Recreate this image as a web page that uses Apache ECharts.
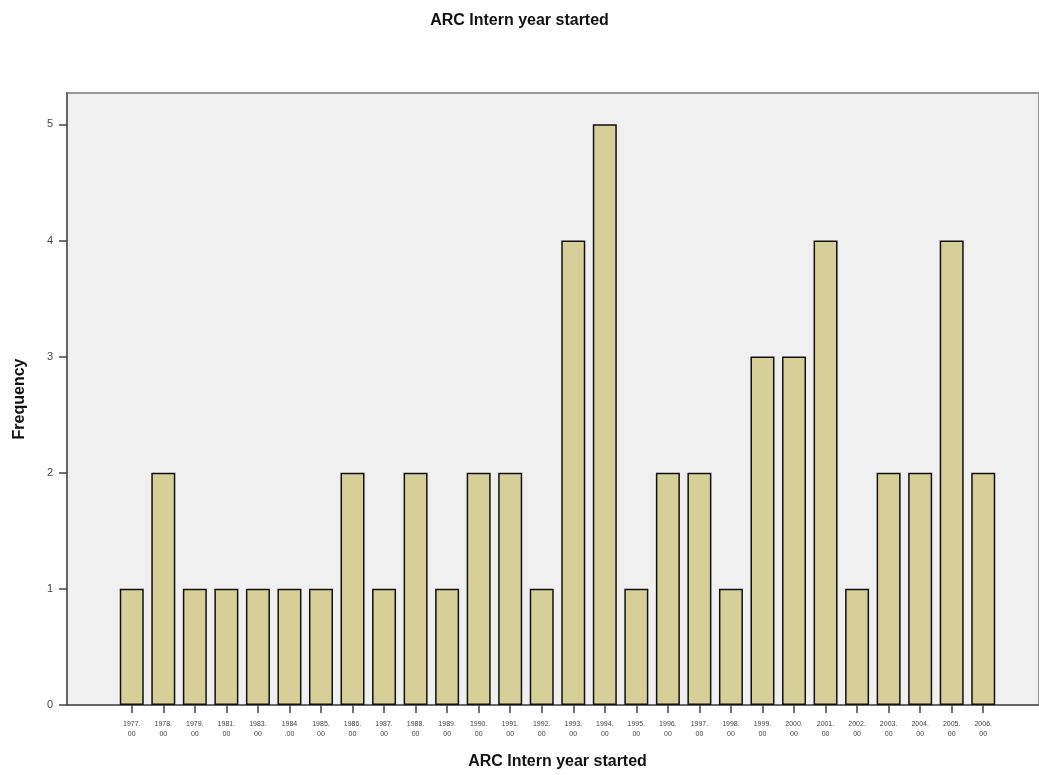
<!DOCTYPE html>
<html>
<head>
<meta charset="utf-8">
<script src="https://cdn.jsdelivr.net/npm/echarts@6/dist/echarts.min.js"></script>
<style>html,body{margin:0;padding:0;background:#fff}#c{width:1039px;height:775px}</style>
</head>
<body>
<div id="c"></div>
<script>
var categories = ['1977.\n00','1978.\n00','1979.\n00','1981.\n00','1983.\n00','1984\n.00','1985.\n00','1986.\n00','1987.\n00','1988.\n00','1989.\n00','1990.\n00','1991.\n00','1992.\n00','1993.\n00','1994.\n00','1995.\n00','1996.\n00','1997.\n00','1998.\n00','1999.\n00','2000.\n00','2001.\n00','2002.\n00','2003.\n00','2004.\n00','2005.\n00','2006.\n00'];
var frequency = [1,2,1,1,1,1,1,2,1,2,1,2,2,1,4,5,1,2,2,1,3,3,4,1,2,2,4,2];
var yTicks = [0,1,2,3,4,5];

var chart = echarts.init(document.getElementById('c'), null, {renderer:'canvas'});
var F = 'Liberation Sans, Arial, sans-serif';
chart.setOption({
  animation:false,
  backgroundColor:'#ffffff',
  title:{text:'ARC Intern year started', left:'center', top:8,
    textStyle:{fontFamily:F, fontSize:16, fontWeight:'bold', color:'#111'}},
  grid:[
    {left:67, right:-4, top:93, bottom:70, show:true, backgroundColor:'#f0f0f0', borderColor:'#999', borderWidth:2},
    {left:116, right:40, top:93, bottom:70}
  ],
  xAxis:[
    {gridIndex:0, type:'value', min:0, max:1, axisLine:{show:true, onZero:false, lineStyle:{color:'#555', width:1.5}},
     axisTick:{show:false}, axisLabel:{show:false}, splitLine:{show:false}},
    {gridIndex:1, type:'category', data:categories, boundaryGap:true,
     axisLine:{show:false}, axisTick:{show:true, alignWithLabel:true, length:8, lineStyle:{color:'#444', width:1.5}},
     axisLabel:{interval:0, fontFamily:F, fontSize:7, color:'#444', lineHeight:10, margin:14},
     name:'ARC Intern year started', nameLocation:'middle', nameGap:49,
     nameTextStyle:{fontFamily:F, fontSize:16, fontWeight:'bold', color:'#111'}}
  ],
  yAxis:[
    {gridIndex:0, type:'value', min:0, max:5.27, interval:1,
     axisLine:{show:true, lineStyle:{color:'#666', width:2}},
     axisTick:{show:true, length:8, lineStyle:{color:'#444', width:1.5}},
     axisLabel:{fontFamily:F, fontSize:11, color:'#444', margin:14, showMaxLabel:false,
       formatter:function(v){return yTicks.indexOf(v)>=0 ? String(v) : '';}},
     splitLine:{show:false},
     name:'Frequency', nameLocation:'middle', nameGap:39, nameRotate:90,
     nameTextStyle:{fontFamily:F, fontSize:16, fontWeight:'bold', color:'#111'}},
    {gridIndex:1, type:'value', min:0, max:5.27, show:false, splitLine:{show:false}}
  ],
  series:[{
    type:'bar', xAxisIndex:1, yAxisIndex:1, data:frequency, barWidth:24,
    itemStyle:{color:'#d6cf98', borderColor:'#111', borderWidth:1.5}
  }]
});
</script>
</body>
</html>
